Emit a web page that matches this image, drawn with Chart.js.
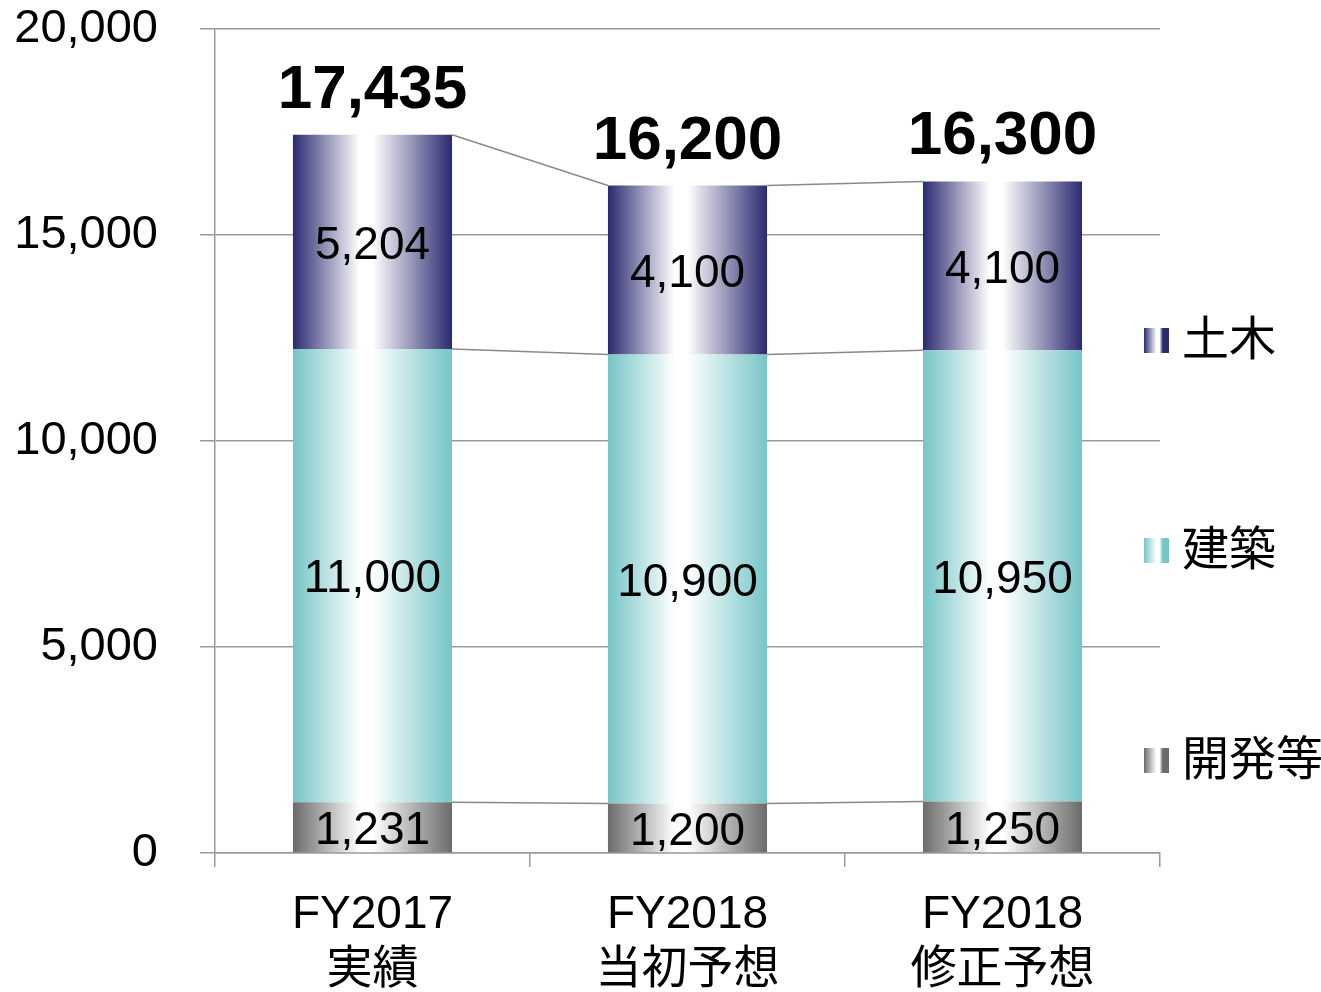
<!DOCTYPE html>
<html lang="ja">
<head>
<meta charset="UTF-8">
<title>売上高</title>
<script src="https://cdn.jsdelivr.net/npm/chart.js"></script>
<style>
  html, body { margin: 0; padding: 0; background: #fff; }
  #wrap { width: 1321px; height: 992px; position: relative; }
</style>
</head>
<body>
<div id="wrap"><canvas id="chart" width="1321" height="992"></canvas></div>
<script>
// categories (two-line labels)
const categories = [['FY2017', '実績'], ['FY2018', '当初予想'], ['FY2018', '修正予想']];
// series, bottom to top
const kaihatsu = [1231, 1200, 1250];   // 開発等
const kenchiku = [11000, 10900, 10950]; // 建築
const doboku = [5204, 4100, 4100];     // 土木
const totals = [17435, 16200, 16300];
const yTicks = [0, 5000, 10000, 15000, 20000];

const FONT = 'Arial, "Liberation Sans", "Noto Sans CJK JP", sans-serif';
const BAR_PCT = 0.505;
const GRID = '#9a9a9a';

// edge colours of the horizontal gradients
const edge = { kaihatsu: '#6b6b6b', kenchiku: '#76c5c7', doboku: '#2a2a70' };

function makeGrad(ctx, x0, x1, c) {
    const g = ctx.createLinearGradient(x0, 0, x1, 0);
    g.addColorStop(0, c);
    g.addColorStop(0.42, '#ffffff');
    g.addColorStop(0.5, '#ffffff');
    g.addColorStop(1, c);
    return g;
}

function barFill(color) {
    return function(context) {
        const chart = context.chart;
        if (!chart.chartArea || !chart.scales.x) return color;
        const xs = chart.scales.x;
        const step = xs.getPixelForValue(1) - xs.getPixelForValue(0);
        const cx = xs.getPixelForValue(context.dataIndex);
        const hw = step * BAR_PCT / 2;
        return makeGrad(chart.ctx, cx - hw, cx + hw, color);
    };
}

const fmt = v => v.toLocaleString('en-US');

// connector lines, labels inside the bars, totals and the legend
const extras = {
    id: 'extras',
    beforeDatasetsDraw(chart) {
        const ctx = chart.ctx;
        ctx.save();
        ctx.strokeStyle = '#8a8a8a';
        ctx.lineWidth = 1.5;
        chart.data.datasets.forEach((ds, di) => {
            const bars = chart.getDatasetMeta(di).data;
            for (let i = 0; i < bars.length - 1; i++) {
                const a = bars[i], b = bars[i + 1];
                ctx.beginPath();
                ctx.moveTo(a.x + a.width / 2, a.y);
                ctx.lineTo(b.x - b.width / 2, b.y);
                ctx.stroke();
            }
        });
        ctx.restore();
    },
    afterDatasetsDraw(chart) {
        const ctx = chart.ctx;
        ctx.save();
        ctx.fillStyle = '#000';
        ctx.textAlign = 'center';
        ctx.textBaseline = 'middle';
        ctx.font = '46px ' + FONT;
        chart.data.datasets.forEach((ds, di) => {
            chart.getDatasetMeta(di).data.forEach((bar, i) => {
                ctx.fillText(fmt(ds.data[i]), bar.x, (bar.y + bar.base) / 2 + 4);
            });
        });
        // totals
        ctx.font = 'bold 62px ' + FONT;
        ctx.textBaseline = 'alphabetic';
        const top = chart.getDatasetMeta(chart.data.datasets.length - 1).data;
        totals.forEach((t, i) => {
            ctx.fillText(fmt(t), top[i].x, top[i].y - 27);
        });
        // legend
        const items = [
            { label: '土木', color: edge.doboku, y: 340 },
            { label: '建築', color: edge.kenchiku, y: 550 },
            { label: '開発等', color: edge.kaihatsu, y: 760 }
        ];
        ctx.textAlign = 'left';
        ctx.textBaseline = 'middle';
        ctx.font = '47px ' + FONT;
        items.forEach(it => {
            const x0 = chart.chartArea.right - 16;
            const g = ctx.createLinearGradient(x0, 0, x0 + 25, 0);
            g.addColorStop(0, it.color);
            g.addColorStop(0.5, '#ffffff');
            g.addColorStop(0.62, '#ffffff');
            g.addColorStop(0.75, it.color);
            g.addColorStop(1, it.color);
            ctx.fillStyle = g;
            ctx.fillRect(x0, it.y - 12, 25, 25);
            ctx.fillStyle = '#000';
            ctx.fillText(it.label, x0 + 38, it.y + 2);
        });
        ctx.restore();
    }
};

new Chart(document.getElementById('chart').getContext('2d'), {
    type: 'bar',
    data: {
        labels: categories,
        datasets: [
            { label: '開発等', data: kaihatsu, backgroundColor: barFill(edge.kaihatsu) },
            { label: '建築', data: kenchiku, backgroundColor: barFill(edge.kenchiku) },
            { label: '土木', data: doboku, backgroundColor: barFill(edge.doboku) }
        ]
    },
    options: {
        responsive: false,
        animation: false,
        events: [],
        layout: { padding: { top: 29, right: 161, left: 0, bottom: 0 } },
        datasets: { bar: { barPercentage: BAR_PCT, categoryPercentage: 1, borderWidth: 0 } },
        plugins: { legend: { display: false }, tooltip: { enabled: false } },
        scales: {
            x: {
                stacked: true,
                afterFit(s) { s.height = 139; s.paddingLeft = 0; s.paddingRight = 0; },
                grid: { offset: true, drawOnChartArea: false, drawTicks: true, tickLength: 14, color: GRID, lineWidth: 1.5 },
                border: { display: true, color: GRID, width: 1.5 },
                ticks: { color: '#000', font: { size: 46, family: FONT, lineHeight: 1.2 }, padding: 21, maxRotation: 0, autoSkip: false }
            },
            y: {
                stacked: true,
                min: 0,
                max: 20000,
                afterFit(s) { s.width = 215; s.paddingTop = 0; s.paddingBottom = 0; },
                afterBuildTicks(s) { s.ticks = yTicks.map(v => ({ value: v })); },
                grid: { color: GRID, lineWidth: 1.5, tickLength: 15 },
                border: { display: true, color: GRID, width: 1.5 },
                ticks: { color: '#000', font: { size: 47, family: FONT }, padding: 42, callback: v => fmt(v) }
            }
        }
    },
    plugins: [extras]
});
</script>
</body>
</html>
